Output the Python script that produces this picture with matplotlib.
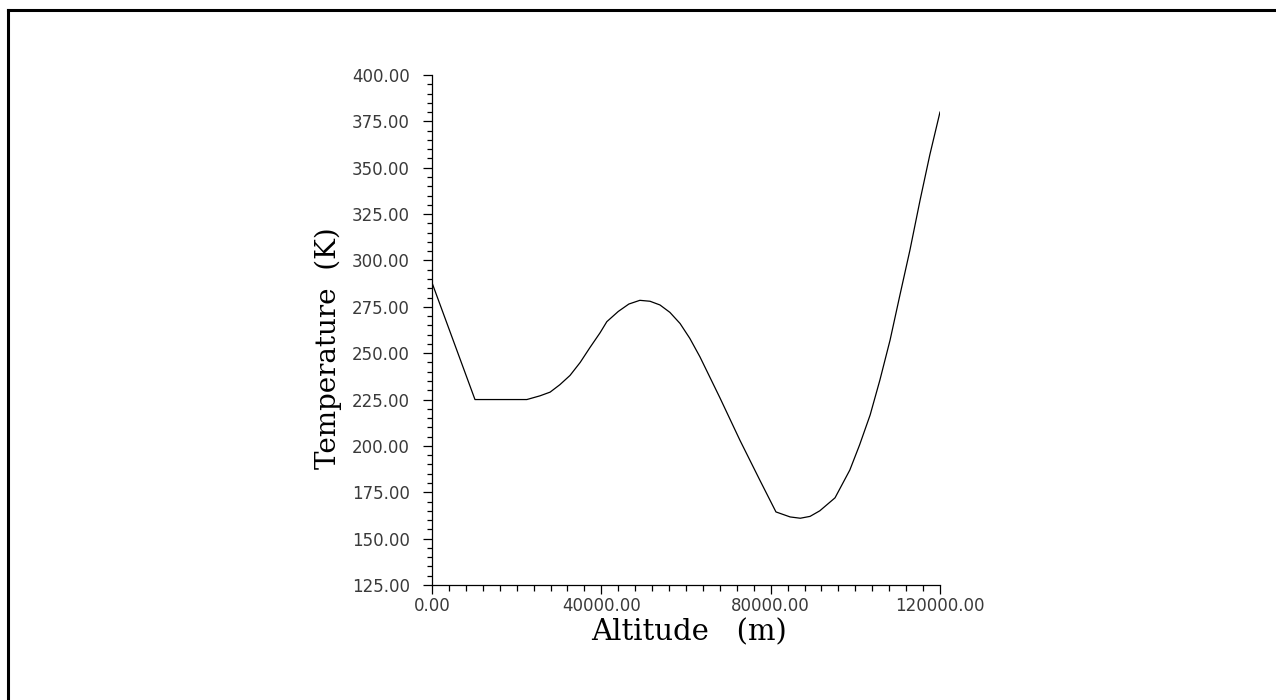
import matplotlib
matplotlib.use('Agg')
import matplotlib.pyplot as plt
from matplotlib.ticker import MultipleLocator, FormatStrFormatter
from matplotlib.lines import Line2D

# altitud (m) y temperatura (K)
altitud = [0, 10150, 22400, 25500, 27900, 30200, 32600, 35000, 37300, 39700,
           41300, 44000, 46500, 49100, 51500, 53850, 56200, 58600, 60900,
           63300, 65650, 68000, 72750, 77450, 81250, 84600, 87000, 89300,
           91600, 95200, 98700, 101000, 103500, 105800, 108200, 110500,
           112900, 115300, 117600, 120000]
temperatura = [288.0, 225.0, 225.0, 227.0, 229.0, 233.0, 238.0, 245.0, 253.0, 261.0,
               267.0, 272.5, 276.5, 278.5, 278.0, 276.0, 272.0, 266.0, 258.0,
               248.0, 237.0, 226.0, 203.0, 181.5, 164.4, 161.7, 161.0, 162.0,
               165.0, 172.0, 187.0, 200.5, 216.7, 235.5, 257.0, 281.0,
               305.6, 332.6, 357.0, 380.0]

fig = plt.figure(figsize=(12.76, 7.0), dpi=100)
ax = fig.add_axes([432/1276, 115/700, 508/1276, 510/700])

ax.plot(altitud, temperatura, color='black', linewidth=0.9)

ax.set_xlim(0, 120000)
ax.set_ylim(125, 400)
ax.xaxis.set_major_locator(MultipleLocator(40000))
ax.xaxis.set_minor_locator(MultipleLocator(4000))
ax.yaxis.set_major_locator(MultipleLocator(25))
ax.yaxis.set_minor_locator(MultipleLocator(5))
ax.xaxis.set_major_formatter(FormatStrFormatter('%.2f'))
ax.yaxis.set_major_formatter(FormatStrFormatter('%.2f'))

for s in ['top', 'right']:
    ax.spines[s].set_visible(False)
for s in ['left', 'bottom']:
    ax.spines[s].set_linewidth(0.9)

ax.tick_params(which='major', length=6.8, width=0.9, direction='out',
               labelsize=12, labelcolor='#3a3a3a')
ax.tick_params(axis='y', which='major', pad=9)
ax.tick_params(axis='x', which='major', pad=2)
ax.tick_params(axis='y', which='minor', length=3.6, width=0.9, direction='out')
ax.tick_params(axis='x', which='minor', length=4.3, width=0.9, direction='out')

ax.set_xlabel('Altitude   (m)', family='DejaVu Serif', fontsize=21)
ax.set_ylabel('Temperature  (K)', family='DejaVu Serif', fontsize=20)
ax.xaxis.set_label_coords(0.506, -0.066)
ax.yaxis.set_label_coords(-0.178, 0.465)

# marco de la figura (cortado a la derecha y abajo)
fig.add_artist(Line2D([7.5/1276, 7.5/1276], [0, 1 - 10/700], color='black',
                      linewidth=2.2, transform=fig.transFigure))
fig.add_artist(Line2D([7.5/1276, 1], [1 - 10/700, 1 - 10/700], color='black',
                      linewidth=2.2, transform=fig.transFigure))

plt.savefig('out.png', dpi=100)
